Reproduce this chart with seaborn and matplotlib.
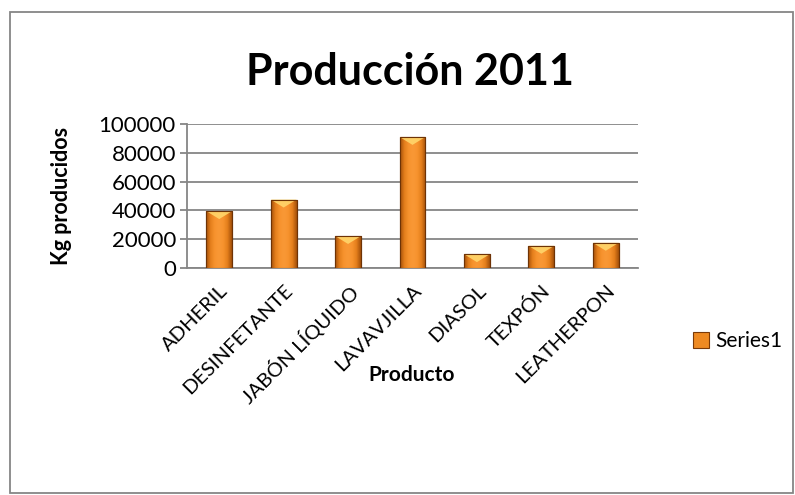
import numpy as np
import pandas as pd
import matplotlib
matplotlib.use("Agg")
import matplotlib.pyplot as plt
import seaborn as sns
from matplotlib.patches import Rectangle, Polygon
from matplotlib.colors import LinearSegmentedColormap

productos = ["ADHERIL", "DESINFETANTE", "JABÓN LÍQUIDO", "LAVAVJILLA", "DIASOL", "TEXPÓN", "LEATHERPON"]
kg = [39500, 47500, 22200, 91000, 9600, 15400, 17500]
yticks = [0, 20000, 40000, 60000, 80000, 100000]
serie = "Series1"
titulo = "Producción 2011"

sns.set_theme(style="white")
plt.rcParams["font.family"] = ["Lato", "DejaVu Sans"]
plt.rcParams["text.color"] = "black"
plt.rcParams["xtick.color"] = "black"
plt.rcParams["ytick.color"] = "black"

df = pd.DataFrame({"Producto": productos, "Kg": kg})

fig = plt.figure(figsize=(7.95, 4.95), dpi=100)
W, H = 795, 495
ax = fig.add_axes([187 / W, 1 - 268 / H, (638 - 187) / W, (268 - 124) / H])

sns.barplot(data=df, x="Producto", y="Kg", color="#F39433", width=0.4, ax=ax,
            edgecolor="#7A3A08", linewidth=0.8, zorder=3, label=serie)
if ax.get_legend() is not None:
    ax.get_legend().remove()

cmap = LinearSegmentedColormap.from_list(
    "bar", ["#A4500A", "#E47F1C", "#F7932E", "#F99836", "#F7932E", "#E47F1C", "#A4500A"])
grad = np.linspace(0, 1, 64).reshape(1, -1)
for p in ax.patches:
    x0, w, h = p.get_x(), p.get_width(), p.get_height()
    im = ax.imshow(grad, cmap=cmap, aspect="auto", extent=[x0, x0 + w, 0, h], zorder=3.5)
    im.set_clip_path(p)
    bh = 5500
    tri = Polygon([[x0, h], [x0 + w, h], [x0 + w * 0.5, h - bh]], closed=True,
                  facecolor="#FFD66B", edgecolor="none", alpha=0.9, zorder=4)
    ax.add_patch(tri)
    ax.add_patch(Rectangle((x0, 0), w, h, fill=False, edgecolor="#6E3306", linewidth=0.8, zorder=5))

ax.set_xlim(-0.5, len(productos) - 0.5)
ax.set_ylim(0, 100000)
ax.set_yticks(yticks)
ax.set_yticklabels([str(v) for v in yticks], fontsize=16)
ax.grid(axis="y", color="#868686", linewidth=1.3, zorder=0)
ax.grid(axis="x", visible=False)
for s in ["top", "right"]:
    ax.spines[s].set_visible(False)
for s in ["left", "bottom"]:
    ax.spines[s].set_color("#868686")
    ax.spines[s].set_linewidth(1.3)
ax.tick_params(axis="y", which="both", left=True, length=5, color="#868686", width=1.3, pad=3)
ax.tick_params(axis="x", bottom=False, pad=4)
ax.set_xticks(range(len(productos)))
ax.set_xticklabels(productos, rotation=45, ha="right", rotation_mode="anchor", fontsize=14.5)
ax.set_xlabel("")
ax.set_ylabel("")

fig.text(62 / W, 1 - 196 / H, "Kg producidos", rotation=90, fontsize=15.5, fontweight="bold",
         ha="center", va="center")
fig.text(412 / W, 1 - 375 / H, "Producto", fontsize=15, fontweight="bold", ha="center", va="center")
fig.text(410 / W, 1 - 72 / H, titulo, fontsize=31, fontweight="bold", ha="center", va="center")

# legend
h, l = ax.get_legend_handles_labels()
leg = fig.legend(h[:1], [serie], loc="center left", bbox_to_anchor=(674 / W, 1 - 341 / H),
                 frameon=False, fontsize=15, handlelength=0.8, handleheight=0.8, handletextpad=0.3)
for lh in leg.legend_handles:
    lh.set_facecolor("#EE8A22")
    lh.set_edgecolor("#7A3A08")

fig.patches.append(Rectangle((10 / W, 2 / H), 783 / W, 481 / H, transform=fig.transFigure,
                             fill=False, edgecolor="#868686", linewidth=1.3))

fig.savefig("out.png", dpi=100, facecolor="white")
